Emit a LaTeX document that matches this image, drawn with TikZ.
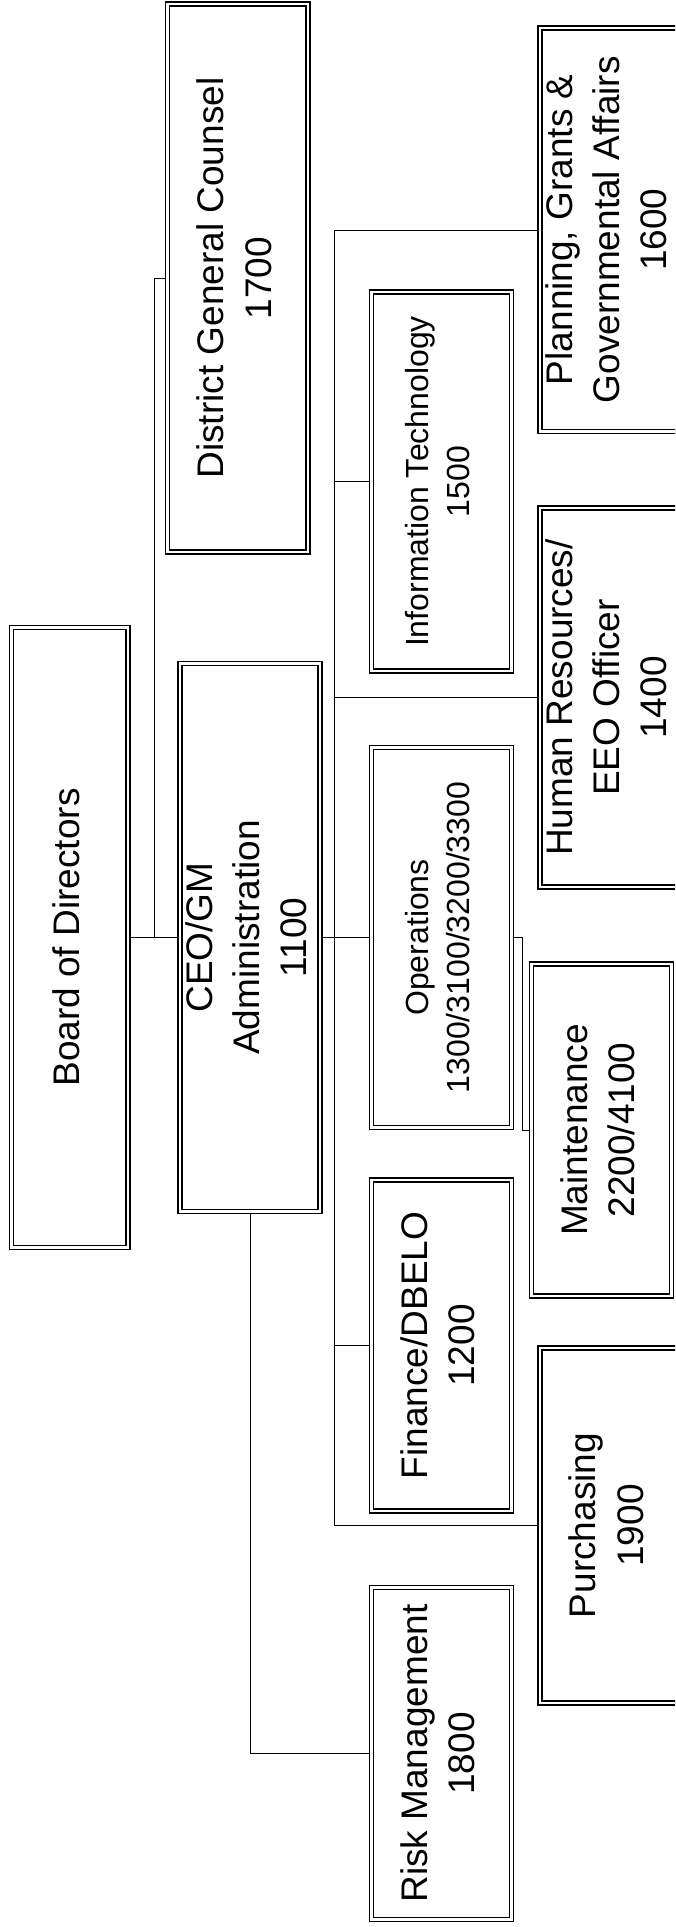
\documentclass[tikz,border=0pt]{standalone}
\usepackage{fontspec}
\setmainfont{Liberation Sans}
\usepackage{graphicx}
\usetikzlibrary{backgrounds}

\newcommand{\girado}[1]{\makebox[0pt]{\rotatebox{90}{\begin{tabular}{@{}c@{}}#1\end{tabular}}}}

\begin{document}
\begin{tikzpicture}[x=1pt, y=-1pt,
    caja/.style={draw, fill=white, double, line width=1.3pt, double distance=2.7pt,
        inner sep=0pt, minimum width=140.2pt, font=\fontsize{37}{47.3}\selectfont},
    chica/.style={font=\fontsize{32}{41}\selectfont},
    enlace/.style={line width=1.3pt}]
    \useasboundingbox (0,0) rectangle (675,1927);
    \clip (0,0) rectangle (675,1927);

    % Nivel superior: consejo, gerencia y asesoria legal.
    \node[caja, minimum width=116.5pt, minimum height=619.5pt] (board) at (69.75,937.5) {\girado{Board of Directors}};
    \node[caja, minimum height=548.4pt] (ceo) at (250,937.5) {\girado{CEO/GM\\Administration\\1100}};
    \node[caja, minimum height=548pt] (dgc) at (237.9,278) {\girado{District General Counsel\\1700}};

    % Departamentos bajo la gerencia.
    \node[caja, chica, minimum height=379pt] (it) at (441.25,481.5) {\girado{Information Technology\\1500}};
    \node[caja, chica, minimum height=380.5pt] (ops) at (441.25,937.5) {\girado{Operations\\1300/3100/3200/3300}};
    \node[caja, minimum height=331pt] (fin) at (441.25,1345.5) {\girado{Finance/DBELO\\1200}};
    \node[caja, minimum height=331.8pt] (risk) at (441.25,1753.5) {\girado{Risk Management\\1800}};
    \node[caja, minimum height=403.5pt] (plan) at (610,229.75) {\girado{Planning, Grants \&\\Governmental Affairs\\1600}};
    \node[caja, minimum height=379pt] (hr) at (610,697.5) {\girado{Human Resources/\\EEO Officer\\1400}};
    \node[caja, minimum height=332pt] (maint) at (601.6,1130) {\girado{Maintenance\\2200/4100}};
    \node[caja, minimum height=355pt] (purch) at (610,1525.5) {\girado{Purchasing\\1900}};

    % Quiebres de las lineas.
    \coordinate (trunk) at (154,937.5);
    \coordinate (bus) at (334,937.5);
    \coordinate (jog) at (522,937.5);

    \begin{scope}[on background layer, enlace]
        \fill[white] (0,0) rectangle (675,1927);
        \draw (board) -- (ceo);
        \draw (ceo) -- (ops);
        \draw (dgc) -| (trunk);
        \draw (bus |- plan) -- (bus |- purch);
        \foreach \dep in {plan,it,hr,fin,purch} {
            \draw (bus |- \dep) -- (\dep);
        }
        \draw (ops) -- (jog) |- (maint);
        \draw (ceo) |- (risk);
    \end{scope}
\end{tikzpicture}
\end{document}
